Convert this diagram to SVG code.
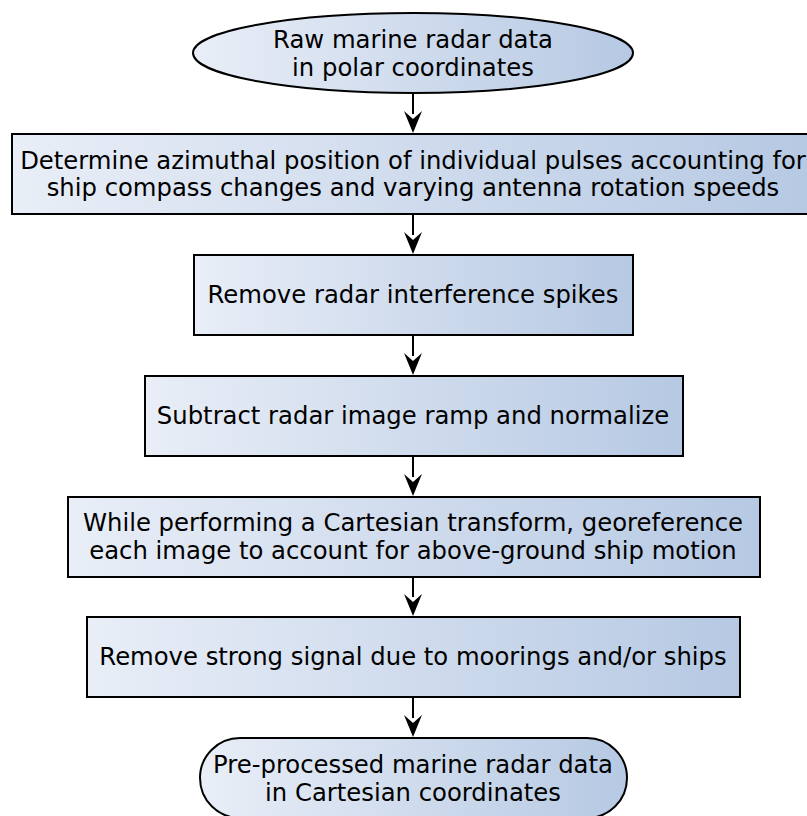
<svg xmlns="http://www.w3.org/2000/svg" width="807" height="816" viewBox="0 0 807 816">
<defs>
<linearGradient id="g" x1="0" y1="0" x2="1" y2="0">
<stop offset="0" stop-color="#e9eef7"/>
<stop offset="1" stop-color="#b6c9e3"/>
</linearGradient>
<style>
.n{fill:url(#g);stroke:#000;stroke-width:2}
.c{stroke:#000;stroke-width:2;fill:none}
</style>
</defs>
<rect width="807" height="816" fill="#fff"/>
<g id="connectors">
<path class="c" d="M413,93 V114"/><path d="M413,133 L404,111 L413,119 L422,111 Z"/>
<path class="c" d="M413,214 V235"/><path d="M413,254 L404,232 L413,240 L422,232 Z"/>
<path class="c" d="M413,335 V356"/><path d="M413,375 L404,353 L413,361 L422,353 Z"/>
<path class="c" d="M413,456 V477"/><path d="M413,496 L404,474 L413,482 L422,474 Z"/>
<path class="c" d="M413,577 V597"/><path d="M413,616 L404,594 L413,602 L422,594 Z"/>
<path class="c" d="M413,697 V718"/><path d="M413,737 L404,715 L413,723 L422,715 Z"/>
</g>
<g font-family="DejaVu Sans, sans-serif" font-size="24.3" text-anchor="middle" fill="#000">
<g id="n1">
<ellipse class="n" cx="413" cy="53" rx="220" ry="40"/>
<text x="413" y="48">Raw marine radar data</text>
<text x="413" y="76">in polar coordinates</text>
</g>
<g id="n2">
<rect class="n" x="12" y="134" width="800" height="80"/>
<text x="413" y="169">Determine azimuthal position of individual pulses accounting for</text>
<text x="413" y="196">ship compass changes and varying antenna rotation speeds</text>
</g>
<g id="n3">
<rect class="n" x="194" y="255" width="439" height="80"/>
<text x="413" y="303">Remove radar interference spikes</text>
</g>
<g id="n4">
<rect class="n" x="145" y="376" width="538" height="80"/>
<text x="413" y="424">Subtract radar image ramp and normalize</text>
</g>
<g id="n5">
<rect class="n" x="68" y="497" width="692" height="80"/>
<text x="413" y="531">While performing a Cartesian transform, georeference</text>
<text x="413" y="559">each image to account for above-ground ship motion</text>
</g>
<g id="n6">
<rect class="n" x="87" y="617" width="653" height="80"/>
<text x="413" y="665">Remove strong signal due to moorings and/or ships</text>
</g>
<g id="n7">
<rect class="n" x="200" y="738" width="427" height="80" rx="40" ry="40"/>
<text x="413" y="773">Pre-processed marine radar data</text>
<text x="413" y="801">in Cartesian coordinates</text>
</g>
</g>
</svg>
